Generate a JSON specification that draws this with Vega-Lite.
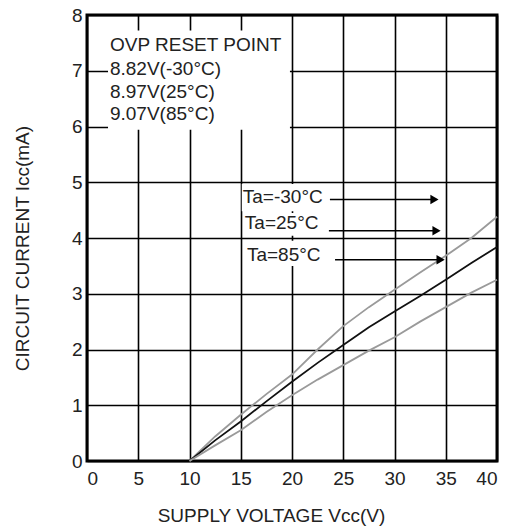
{
  "$schema": "https://vega.github.io/schema/vega-lite/v6.json",
  "width": 410,
  "height": 446,
  "autosize": {"type": "none"},
  "padding": {"left": 87, "top": 15, "right": 13, "bottom": 65},
  "background": "white",
  "config": {
    "font": "Liberation Sans",
    "view": {"stroke": "#000", "strokeWidth": 3},
    "axis": {
      "grid": true,
      "gridColor": "#000",
      "gridWidth": 1.6,
      "gridOpacity": 1,
      "ticks": false,
      "domain": false,
      "labelFontSize": 19,
      "labelColor": "#222",
      "labelFont": "Liberation Sans",
      "titleFontSize": 19,
      "titleFontWeight": "normal",
      "titleColor": "#222",
      "titleFont": "Liberation Sans"
    }
  },
  "datasets": {
    "curves": [
      {"x": 10, "y": 0, "t": "-30"},
      {"x": 12.5, "y": 0.44, "t": "-30"},
      {"x": 15, "y": 0.83, "t": "-30"},
      {"x": 17.5, "y": 1.2, "t": "-30"},
      {"x": 20, "y": 1.55, "t": "-30"},
      {"x": 22.5, "y": 2.0, "t": "-30"},
      {"x": 25, "y": 2.42, "t": "-30"},
      {"x": 27.5, "y": 2.76, "t": "-30"},
      {"x": 30, "y": 3.07, "t": "-30"},
      {"x": 32.5, "y": 3.38, "t": "-30"},
      {"x": 35, "y": 3.68, "t": "-30"},
      {"x": 37.5, "y": 4.0, "t": "-30"},
      {"x": 40, "y": 4.38, "t": "-30"},
      {"x": 10, "y": 0, "t": "25"},
      {"x": 12.5, "y": 0.37, "t": "25"},
      {"x": 15, "y": 0.71, "t": "25"},
      {"x": 17.5, "y": 1.07, "t": "25"},
      {"x": 20, "y": 1.42, "t": "25"},
      {"x": 22.5, "y": 1.76, "t": "25"},
      {"x": 25, "y": 2.08, "t": "25"},
      {"x": 27.5, "y": 2.4, "t": "25"},
      {"x": 30, "y": 2.68, "t": "25"},
      {"x": 32.5, "y": 2.96, "t": "25"},
      {"x": 35, "y": 3.25, "t": "25"},
      {"x": 37.5, "y": 3.55, "t": "25"},
      {"x": 40, "y": 3.84, "t": "25"},
      {"x": 10, "y": 0, "t": "85"},
      {"x": 12.5, "y": 0.28, "t": "85"},
      {"x": 15, "y": 0.55, "t": "85"},
      {"x": 17.5, "y": 0.88, "t": "85"},
      {"x": 20, "y": 1.18, "t": "85"},
      {"x": 22.5, "y": 1.46, "t": "85"},
      {"x": 25, "y": 1.72, "t": "85"},
      {"x": 27.5, "y": 1.98, "t": "85"},
      {"x": 30, "y": 2.22, "t": "85"},
      {"x": 32.5, "y": 2.5, "t": "85"},
      {"x": 35, "y": 2.76, "t": "85"},
      {"x": 37.5, "y": 3.02, "t": "85"},
      {"x": 40, "y": 3.25, "t": "85"}
    ],
    "boxes": [
      {"x": 2.05, "x2": 19.8, "y": 7.72, "y2": 5.94},
      {"x": 15.1, "x2": 23.7, "y": 4.97, "y2": 4.48},
      {"x": 15.3, "x2": 23.5, "y": 4.45, "y2": 4.04},
      {"x": 15.35, "x2": 24.2, "y": 3.95, "y2": 3.5}
    ],
    "labels": [
      {"x": 2.24, "y": 7.46, "label": "OVP RESET POINT"},
      {"x": 2.24, "y": 7.04, "label": "8.82V(-30°C)"},
      {"x": 2.24, "y": 6.62, "label": "8.97V(25°C)"},
      {"x": 2.24, "y": 6.22, "label": "9.07V(85°C)"},
      {"x": 15.2, "y": 4.74, "label": "Ta=-30°C"},
      {"x": 15.4, "y": 4.27, "label": "Ta=25°C"},
      {"x": 15.6, "y": 3.7, "label": "Ta=85°C"}
    ],
    "arrows": [
      {"x": 23.7, "x2": 34.0, "y": 4.69, "hx": 33.9},
      {"x": 23.6, "x2": 34.2, "y": 4.13, "hx": 34.1},
      {"x": 24.2, "x2": 34.7, "y": 3.61, "hx": 34.5}
    ]
  },
  "encoding": {
    "x": {
      "field": "x",
      "type": "quantitative",
      "scale": {"domain": [0, 40], "nice": false, "zero": false},
      "axis": {
        "values": [0, 5, 10, 15, 20, 25, 30, 35, 40],
        "labelPadding": 8,
        "title": "SUPPLY VOLTAGE Vcc(V)",
        "titleX": 184,
        "titleY": 54,
        "titleBaseline": "middle",
        "titleAlign": "center"
      }
    },
    "y": {
      "field": "y",
      "type": "quantitative",
      "scale": {"domain": [0, 8], "nice": false, "zero": false},
      "axis": {
        "values": [0, 1, 2, 3, 4, 5, 6, 7, 8],
        "labelPadding": 5,
        "title": "CIRCUIT CURRENT Icc(mA)",
        "titleX": -65,
        "titleY": 233,
        "titleAngle": 270,
        "titleBaseline": "middle",
        "titleAlign": "center"
      }
    }
  },
  "layer": [
    {
      "data": {"name": "curves"},
      "mark": {"type": "line", "strokeWidth": 1.8},
      "encoding": {
        "color": {
          "field": "t",
          "type": "nominal",
          "scale": {"domain": ["-30", "25", "85"], "range": ["#9a9a9a", "#111111", "#9a9a9a"]},
          "legend": null
        },
        "detail": {"field": "t"}
      }
    },
    {
      "data": {"name": "boxes"},
      "mark": {"type": "rect", "fill": "white", "stroke": null},
      "encoding": {
        "x2": {"field": "x2"},
        "y2": {"field": "y2"}
      }
    },
    {
      "data": {"name": "labels"},
      "mark": {"type": "text", "align": "left", "baseline": "middle", "fontSize": 19, "color": "#222", "font": "Liberation Sans"},
      "encoding": {
        "text": {"field": "label"}
      }
    },
    {
      "data": {"name": "arrows"},
      "mark": {"type": "rule", "color": "#000", "strokeWidth": 1.5},
      "encoding": {
        "x2": {"field": "x2"}
      }
    },
    {
      "data": {"name": "arrows"},
      "mark": {"type": "point", "shape": "triangle-right", "filled": true, "color": "#000", "size": 90, "opacity": 1},
      "encoding": {
        "x": {"field": "hx", "type": "quantitative"}
      }
    }
  ]
}
